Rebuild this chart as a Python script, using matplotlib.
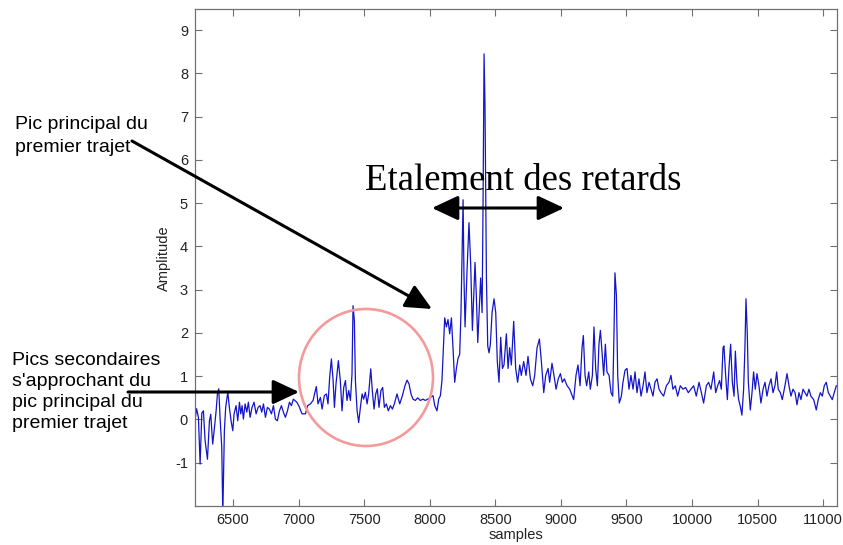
import matplotlib
matplotlib.use("Agg")
import matplotlib.pyplot as plt
from matplotlib.patches import Ellipse, FancyArrowPatch

# signal (samples, amplitude)
samples = [
    6213, 6222, 6236, 6249, 6262, 6274, 6287, 6305, 6320, 6330, 6345, 6356, 6371, 6381, 6391,
    6401, 6414, 6422, 6434, 6444, 6460, 6472, 6485, 6498, 6508, 6523, 6536, 6549, 6559, 6569,
    6579, 6592, 6605, 6617, 6630, 6645, 6660, 6676, 6691, 6706, 6719, 6732, 6747, 6762, 6777,
    6793, 6808, 6823, 6838, 6854, 6869, 6884, 6899, 6915, 6930, 6945, 6960, 6986, 7001, 7026,
    7052, 7069, 7090, 7110, 7135, 7148, 7166, 7179, 7196, 7212, 7224, 7237, 7250, 7263, 7273,
    7285, 7303, 7318, 7331, 7344, 7357, 7369, 7382, 7395, 7407, 7415, 7425, 7433, 7446, 7458,
    7471, 7484, 7496, 7509, 7522, 7534, 7550, 7562, 7575, 7588, 7600, 7613, 7628, 7641, 7654,
    7669, 7684, 7700, 7715, 7730, 7750, 7771, 7791, 7811, 7827, 7842, 7857, 7872, 7890, 7908,
    7928, 7949, 7966, 7984, 8005, 8025, 8038, 8055, 8068, 8081, 8093, 8114, 8127, 8139, 8152,
    8165, 8177, 8190, 8203, 8216, 8228, 8238, 8254, 8261, 8269, 8284, 8299, 8312, 8325, 8335,
    8345, 8355, 8366, 8376, 8388, 8399, 8406, 8414, 8421, 8432, 8442, 8452, 8462, 8475, 8490,
    8503, 8515, 8528, 8541, 8554, 8566, 8584, 8597, 8609, 8622, 8640, 8655, 8670, 8686, 8698,
    8716, 8734, 8749, 8767, 8785, 8800, 8818, 8836, 8851, 8869, 8884, 8902, 8914, 8932, 8947,
    8963, 8980, 8996, 9011, 9026, 9047, 9067, 9082, 9097, 9115, 9130, 9146, 9161, 9171, 9184,
    9196, 9212, 9224, 9240, 9252, 9265, 9278, 9290, 9301, 9313, 9326, 9339, 9351, 9367, 9382,
    9395, 9405, 9412, 9423, 9433, 9445, 9461, 9473, 9489, 9504, 9519, 9534, 9550, 9565, 9580,
    9595, 9611, 9626, 9641, 9656, 9672, 9687, 9702, 9717, 9733, 9748, 9763, 9783, 9804, 9824,
    9839, 9854, 9872, 9890, 9910, 9931, 9951, 9971, 9992, 10012, 10032, 10053, 10071, 10088, 10109,
    10126, 10144, 10165, 10180, 10195, 10210, 10223, 10236, 10243, 10256, 10269, 10281, 10294, 10307, 10320,
    10330, 10342, 10355, 10368, 10380, 10393, 10403, 10411, 10421, 10429, 10444, 10457, 10469, 10482, 10495,
    10510, 10525, 10541, 10556, 10571, 10586, 10602, 10617, 10632, 10645, 10657, 10673, 10688, 10708, 10724,
    10739, 10754, 10769, 10785, 10800, 10815, 10830, 10846, 10861, 10876, 10891, 10906, 10927, 10947, 10962,
    10978, 10993, 11008, 11023, 11039, 11054, 11069, 11084, 11100,
]
amplitude = [
    0.05, 0.25, 0.05, -1.03, 0.15, 0.20, -0.49, -0.92, -0.03, 0.12, -0.57, -0.26, 0.20, 0.59, 0.71,
    0.05, -0.64, -2.20, -0.26, 0.28, 0.63, 0.28, -0.03, -0.26, 0.13, 0.32, -0.03, 0.40, 0.13, 0.32,
    0.01, 0.36, 0.17, 0.40, 0.05, 0.28, 0.40, 0.13, 0.28, 0.32, 0.17, 0.36, 0.05, 0.28, 0.24,
    0.13, 0.32, 0.01, -0.03, 0.20, 0.32, 0.17, 0.05, 0.20, 0.40, 0.32, 0.47, 0.40, 0.32, 0.13,
    0.13, 0.32, 0.36, 0.44, 0.76, 0.36, 0.51, 0.24, 0.55, 0.59, 0.36, 0.98, 1.40, 0.90, 0.28,
    0.82, 1.36, 0.90, 0.20, 0.74, 0.90, 0.44, 0.67, 0.44, 1.05, 2.63, 2.29, 0.90, 0.20, -0.07,
    0.28, 0.59, 0.47, 0.63, 0.36, 0.59, 1.17, 0.67, 0.24, 0.59, 0.71, 0.28, 0.67, 0.74, 0.28,
    0.36, 0.20, 0.32, 0.24, 0.36, 0.59, 0.36, 0.55, 0.78, 0.91, 0.82, 0.59, 0.47, 0.44, 0.50,
    0.44, 0.47, 0.44, 0.47, 0.51, 0.55, 0.32, 0.20, 0.47, 0.55, 0.90, 2.35, 2.14, 2.31, 1.98,
    2.35, 1.66, 0.86, 1.18, 1.42, 1.50, 2.47, 5.08, 3.27, 2.14, 3.43, 4.55, 3.59, 2.06, 2.87,
    3.63, 2.87, 1.78, 2.47, 3.27, 2.47, 4.88, 8.45, 7.29, 3.27, 1.70, 1.54, 1.74, 2.47, 2.79,
    2.47, 1.34, 0.86, 1.90, 1.18, 1.26, 1.98, 1.18, 1.66, 1.26, 2.27, 1.18, 0.86, 1.26, 1.02,
    1.34, 1.02, 1.46, 0.94, 0.78, 1.02, 1.66, 1.86, 1.34, 0.62, 1.02, 1.18, 0.86, 1.30, 1.02,
    0.70, 0.94, 1.06, 0.86, 0.94, 0.78, 0.70, 0.58, 0.46, 1.02, 1.26, 0.78, 1.66, 1.94, 1.02,
    0.78, 1.10, 0.70, 1.02, 2.14, 1.18, 0.78, 1.74, 2.06, 1.58, 1.02, 1.74, 1.10, 1.02, 0.62,
    0.54, 2.06, 3.39, 2.87, 1.02, 0.38, 0.54, 0.86, 1.14, 1.18, 0.70, 1.02, 0.70, 1.10, 0.62,
    0.94, 0.54, 0.78, 1.10, 0.62, 0.86, 0.70, 0.54, 0.86, 0.94, 0.70, 0.62, 0.54, 0.78, 0.86,
    1.02, 0.70, 0.78, 0.54, 0.78, 0.70, 0.74, 0.62, 0.70, 0.78, 0.54, 0.86, 0.62, 0.38, 0.78,
    0.86, 0.70, 1.10, 0.62, 0.78, 0.90, 0.70, 1.66, 1.70, 1.02, 0.46, 1.18, 1.74, 0.86, 0.54,
    1.58, 0.86, 0.46, 0.30, 0.10, 0.70, 1.66, 2.79, 1.98, 0.86, 0.22, 0.62, 1.10, 0.70, 1.06,
    0.78, 0.38, 0.70, 0.86, 0.54, 0.78, 0.94, 0.62, 0.78, 1.10, 0.70, 0.62, 0.46, 0.78, 1.06,
    0.78, 0.54, 0.70, 0.62, 0.34, 0.62, 0.46, 0.70, 0.62, 0.54, 0.70, 0.54, 0.46, 0.22, 0.46,
    0.62, 0.54, 0.78, 0.86, 0.62, 0.54, 0.46, 0.62, 0.78,
]

x_ticks = [6500, 7000, 7500, 8000, 8500, 9000, 9500, 10000, 10500, 11000]
y_ticks = [-1, 0, 1, 2, 3, 4, 5, 6, 7, 8, 9]

W, H = 843, 545
plt.rcParams["font.family"] = ["Liberation Sans", "DejaVu Sans"]
plt.rcParams["axes.unicode_minus"] = False
fig = plt.figure(figsize=(W / 100, H / 100), dpi=100)
ax = fig.add_axes([195 / W, 1 - 506 / H, (837 - 195) / W, (506 - 9.4) / H])

ax.plot(samples, amplitude, color="#1414c8", lw=0.9)
ax.set_xlim(6210, 11105)
ax.set_ylim(-2.0, 9.48)
ax.set_xticks(x_ticks)
ax.set_yticks(y_ticks)
ax.tick_params(direction="in", top=True, right=True, length=5, width=0.8,
               color="#707070", labelsize=10.5, labelcolor="#222222", pad=5)
for s in ax.spines.values():
    s.set_color("#707070")
    s.set_linewidth(0.9)
ax.set_xlabel("samples", fontsize=10.5, color="#222222", labelpad=1)
ax.set_ylabel("Amplitude", fontsize=10.5, color="#222222", labelpad=3)


def fpos(px, py):
    # image pixel (y from top) -> figure fraction
    return (px / W, 1 - py / H)


def arrow(p0, p1, both=False):
    style = "<|-|>" if both else "-|>"
    fig.add_artist(FancyArrowPatch(
        fpos(*p0), fpos(*p1), transform=fig.transFigure,
        arrowstyle=f"{style},head_length=1.6,head_width=0.75", mutation_scale=10,
        lw=2.2, color="black", shrinkA=0, shrinkB=0))


# annotations
fig.text(15 / W, 1 - 136 / H, "Pic principal du\npremier trajet", fontsize=14,
         va="center", ha="left", linespacing=1.45)
fig.text(12 / W, 1 - 392 / H, "Pics secondaires\ns'approchant du\npic principal du\npremier trajet",
         fontsize=14, va="center", ha="left", linespacing=1.32)
fig.text(523 / W, 1 - 190 / H, "Etalement des retards", fontsize=26.5,
         family=["Liberation Serif", "DejaVu Serif"], ha="center", va="baseline")

arrow((132, 141), (432, 309))
arrow((128, 392), (299, 392))
arrow((432, 208), (564, 208), both=True)

cx, cy = fpos(366, 377.5)
fig.add_artist(Ellipse((cx, cy), 134 / W, 137 / H, transform=fig.transFigure,
                       fill=False, edgecolor="#f49a9a", lw=1.9))

fig.savefig("out.png", dpi=100)
